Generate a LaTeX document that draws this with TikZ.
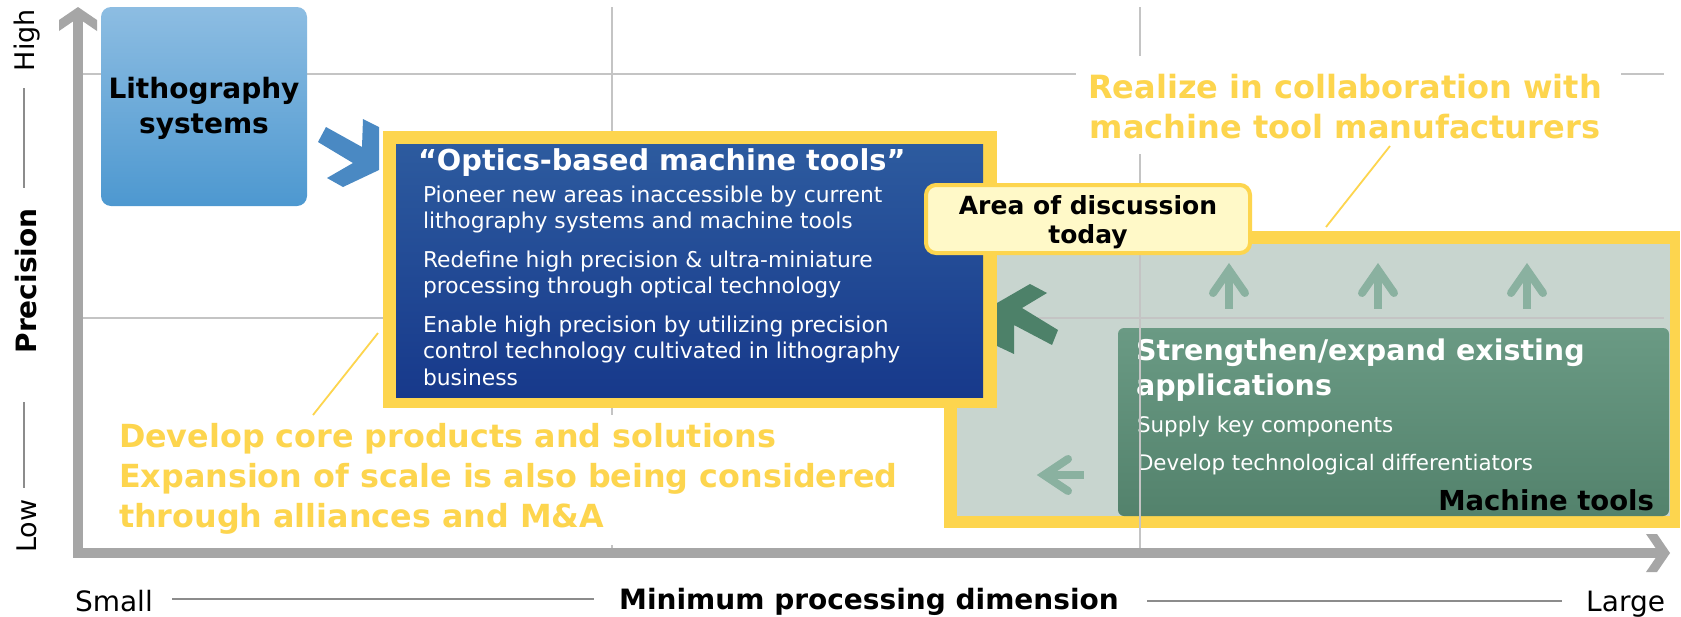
\documentclass[tikz,border=0pt]{standalone}
\usepackage{fontspec}
\setmainfont{DejaVu Sans}
\newcommand{\fsz}[1]{\fontsize{#1}{#1}\selectfont}
\definecolor{gridc}{HTML}{C4C4C4}
\definecolor{axisc}{HTML}{A6A6A6}
\definecolor{yel}{HTML}{FDD54E}
\definecolor{labelfill}{HTML}{FFF9C8}
\definecolor{lightfill}{HTML}{C8D5CF}
\definecolor{arrowlight}{HTML}{8AB1A0}
\definecolor{chevgreen}{HTML}{4D8169}
\definecolor{chevblue}{HTML}{4A89C3}
\definecolor{lithotop}{HTML}{8DBDE2}
\definecolor{lithobot}{HTML}{4D98D0}
\definecolor{bluetop}{HTML}{2D5B9F}
\definecolor{bluebot}{HTML}{17398B}
\definecolor{greentop}{HTML}{6A9A84}
\definecolor{greenbot}{HTML}{53826C}
\definecolor{sidegray}{HTML}{8C8C8C}
\begin{document}
\begin{tikzpicture}[x=1pt,y=-1pt,
  txt/.style={inner sep=0pt,outer sep=0pt},
  boxnode/.style={inner sep=0pt,outer sep=0pt},
  gridline/.style={draw=gridc,line width=2.5pt},
  leader/.style={draw=yel,line width=1.8pt},
  smallarrow/.style={draw=arrowlight,line width=8pt},
  sideline/.style={draw=sidegray,line width=1.1pt}]
\useasboundingbox (0,0) rectangle (1681,616);
\fill[white] (0,0) rectangle (1681,616);

% grid
\draw[gridline] (83,74) -- (1664,74);
\draw[gridline] (83,318) -- (1664,318);
\draw[gridline] (612,7) -- (612,548);
\draw[gridline] (1140,7) -- (1140,548);

% realize text
\node[boxnode,fill=white,minimum width=545pt,minimum height=98pt] (realizebg) at (1348.5,105) {};
\node[txt,anchor=base,text=yel,font={\bfseries\fsz{32}}] (realize1) at (1345,98) {Realize in collaboration with};
\node[txt,anchor=base,text=yel,font={\bfseries\fsz{32}}] (realize2) at (1345,138) {machine tool manufacturers};

% lithography box
\node[boxnode,top color=lithotop,bottom color=lithobot,rounded corners=10pt,minimum width=206pt,minimum height=199pt] (litho) at (204,106.5) {};
\node[txt,anchor=base,font={\bfseries\fsz{28}}] (litho1) at (204,98) {Lithography};
\node[txt,anchor=base,font={\bfseries\fsz{28}}] (litho2) at (204,133) {systems};

% blue chevron
\fill[chevblue] (326,127) -- (362,147) -- (363,119) -- (379,127) -- (379,170) -- (343,187) -- (327,178) -- (353,163) -- (318,142) -- cycle;

% machine tools area
\node[boxnode,fill=yel,minimum width=736pt,minimum height=297pt] (mframe) at (1312,379.5) {};
\node[boxnode,fill=lightfill,minimum width=713pt,minimum height=272pt] (marea) at (1313.5,380) {};
\draw[gridline] (957,318) -- (1664,318);

\foreach \x in {1229,1378,1527} {
  \draw[smallarrow,line cap=round,line join=miter] ({\x-16},293) -- (\x,270) -- ({\x+16},293);
  \draw[smallarrow] (\x,272) -- (\x,309);
}
\draw[smallarrow,line cap=round,line join=miter] (1068,459) -- (1044,475) -- (1068,491);
\draw[smallarrow] (1046,475) -- (1084,475);

\node[boxnode,top color=greentop,bottom color=greenbot,rounded corners=6pt,minimum width=551pt,minimum height=188pt] (gbox) at (1393.5,422) {};
\node[txt,anchor=base west,text=white,font={\bfseries\fsz{28.5}}] (g1) at (1136,360) {Strengthen/expand existing};
\node[txt,anchor=base west,text=white,font={\bfseries\fsz{28.5}}] (g2) at (1136,395) {applications};
\node[txt,anchor=base west,text=white,font={\fsz{21.4}}] (g3) at (1137,432) {Supply key components};
\node[txt,anchor=base west,text=white,font={\fsz{21.4}}] (g4) at (1137,470) {Develop technological differentiators};
\node[txt,anchor=base east,text=black,font={\bfseries\fsz{27.5}}] (g5) at (1654,510) {Machine tools};
\draw[gridline] (1140,244) -- (1140,548);

% optics box
\node[boxnode,fill=yel,minimum width=614pt,minimum height=277pt] (bframe) at (690,269.5) {};
\node[boxnode,top color=bluetop,bottom color=bluebot,minimum width=587pt,minimum height=253pt] (bbox) at (689.5,270.5) {};
\node[txt,anchor=base west,text=white,font={\bfseries\fsz{28.8}}] (b0) at (418,170) {“Optics-based machine tools”};
\node[txt,anchor=base west,text=white,font={\fsz{21.8}}] (b1) at (423,202) {Pioneer new areas inaccessible by current};
\node[txt,anchor=base west,text=white,font={\fsz{21.8}}] (b2) at (423,228.7) {lithography systems and machine tools};
\node[txt,anchor=base west,text=white,font={\fsz{21.8}}] (b3) at (423,267) {Redefine high precision \& ultra-miniature};
\node[txt,anchor=base west,text=white,font={\fsz{21.8}}] (b4) at (423,293.7) {processing through optical technology};
\node[txt,anchor=base west,text=white,font={\fsz{21.8}}] (b5) at (423,332) {Enable high precision by utilizing precision};
\node[txt,anchor=base west,text=white,font={\fsz{21.8}}] (b6) at (423,358.7) {control technology cultivated in lithography};
\node[txt,anchor=base west,text=white,font={\fsz{21.8}}] (b7) at (423,385.4) {business};

% green chevron
\fill[chevgreen] (1030,284) -- (1047,293) -- (1022,308) -- (1058,330) -- (1052,345) -- (1014,325) -- (1014,354) -- (997,346) -- (997,303) -- cycle;

% label
\node[boxnode,draw=yel,line width=4pt,fill=labelfill,rounded corners=10pt,minimum width=324pt,minimum height=68pt] (label) at (1088,219) {};
\node[txt,anchor=base,font={\bfseries\fsz{25}}] (label1) at (1088,214) {Area of discussion};
\node[txt,anchor=base,font={\bfseries\fsz{25}}] (label2) at (1088,243) {today};

% develop text
\node[boxnode,fill=white,minimum width=800pt,minimum height=130pt] (devbg) at (505,480) {};
\node[txt,anchor=base west,text=yel,font={\bfseries\fsz{31.8}}] (d1) at (119,447) {Develop core products and solutions};
\node[txt,anchor=base west,text=yel,font={\bfseries\fsz{31.8}}] (d2) at (119,487) {Expansion of scale is also being considered};
\node[txt,anchor=base west,text=yel,font={\bfseries\fsz{31.8}}] (d3) at (119,527) {through alliances and M\&A};

% leaders
\coordinate (rl1) at (1390,146);
\coordinate (rl2) at (1326,227);
\coordinate (dl1) at (378,333);
\coordinate (dl2) at (313,415);
\draw[leader] (rl1) -- (rl2);
\draw[leader] (dl1) -- (dl2);

% axes
\fill[axisc] (73,16) rectangle (83,558);
\fill[axisc] (73,548) rectangle (1662,558);
\fill[axisc] (78,7) -- (97,20) -- (97,31) -- (78,18) -- (59,31) -- (59,20) -- cycle;
\fill[axisc] (1670,553) -- (1657,534) -- (1646,534) -- (1659,553) -- (1646,572) -- (1657,572) -- cycle;

% axis labels
\node[txt,rotate=90,anchor=base,font={\fsz{27}}] (high) at (34,40) {High};
\node[txt,rotate=90,anchor=base,font={\bfseries\fsz{28}}] (prec) at (36,281) {Precision};
\node[txt,rotate=90,anchor=base,font={\fsz{27}}] (low) at (36,526) {Low};
\coordinate (yl1) at (24,88); \coordinate (yl2) at (24,188);
\coordinate (yl3) at (24,402); \coordinate (yl4) at (24,488);
\draw[sideline] (yl1) -- (yl2);
\draw[sideline] (yl3) -- (yl4);

\node[txt,anchor=base west,font={\fsz{28}}] (small) at (75,611) {Small};
\node[txt,anchor=base,font={\bfseries\fsz{28}}] (xlabel) at (869,609) {Minimum processing dimension};
\node[txt,anchor=base east,font={\fsz{28}}] (large) at (1665,611) {Large};
\coordinate (xl1) at (172,599); \coordinate (xl2) at (594,599);
\coordinate (xl3) at (1147,601); \coordinate (xl4) at (1562,601);
\draw[sideline] (xl1) -- (xl2);
\draw[sideline] (xl3) -- (xl4);
\end{tikzpicture}
\end{document}
